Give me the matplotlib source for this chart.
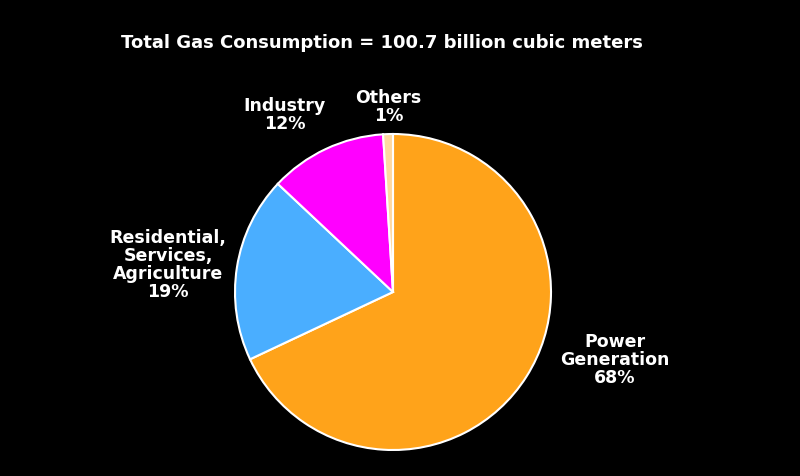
import matplotlib.pyplot as plt

labels = ['Power\nGeneration\n68%', 'Residential,\nServices,\nAgriculture\n19%', 'Industry\n12%', 'Others\n1%']
shares = [68, 19, 12, 1]
colors = ['#FFA31A', '#4AAEFF', '#FF00FF', '#FFD9A0']
# label centres in units of pie radius
label_pos = [(1.405, -0.43), (-1.424, 0.17), (-0.684, 1.12), (-0.03, 1.17)]

fig = plt.figure(figsize=(8, 4.76), dpi=100, facecolor='black')
# pie centre at ~(393, 292) px, radius ~158 px
ax = fig.add_axes([(393 - 316) / 800, (184 - 316) / 476, 632 / 800, 632 / 476])
ax.set_facecolor('black')
wedges, texts = ax.pie(shares, colors=colors, startangle=90, counterclock=False,
                       radius=1, wedgeprops=dict(edgecolor='white', linewidth=1.5))
for lab, (x, y) in zip(labels, label_pos):
    ax.text(x, y, lab, ha='center', va='center',
            color='white', fontsize=12.5, fontweight='bold', linespacing=1.0)
ax.set_xlim(-2, 2)
ax.set_ylim(-2, 2)
ax.set_aspect('equal')
ax.axis('off')

fig.text(0.478, 1 - 43 / 476, 'Total Gas Consumption = 100.7 billion cubic meters',
         ha='center', va='center', color='white', fontsize=13, fontweight='bold')
fig.savefig('out.png', dpi=100, facecolor='black')
